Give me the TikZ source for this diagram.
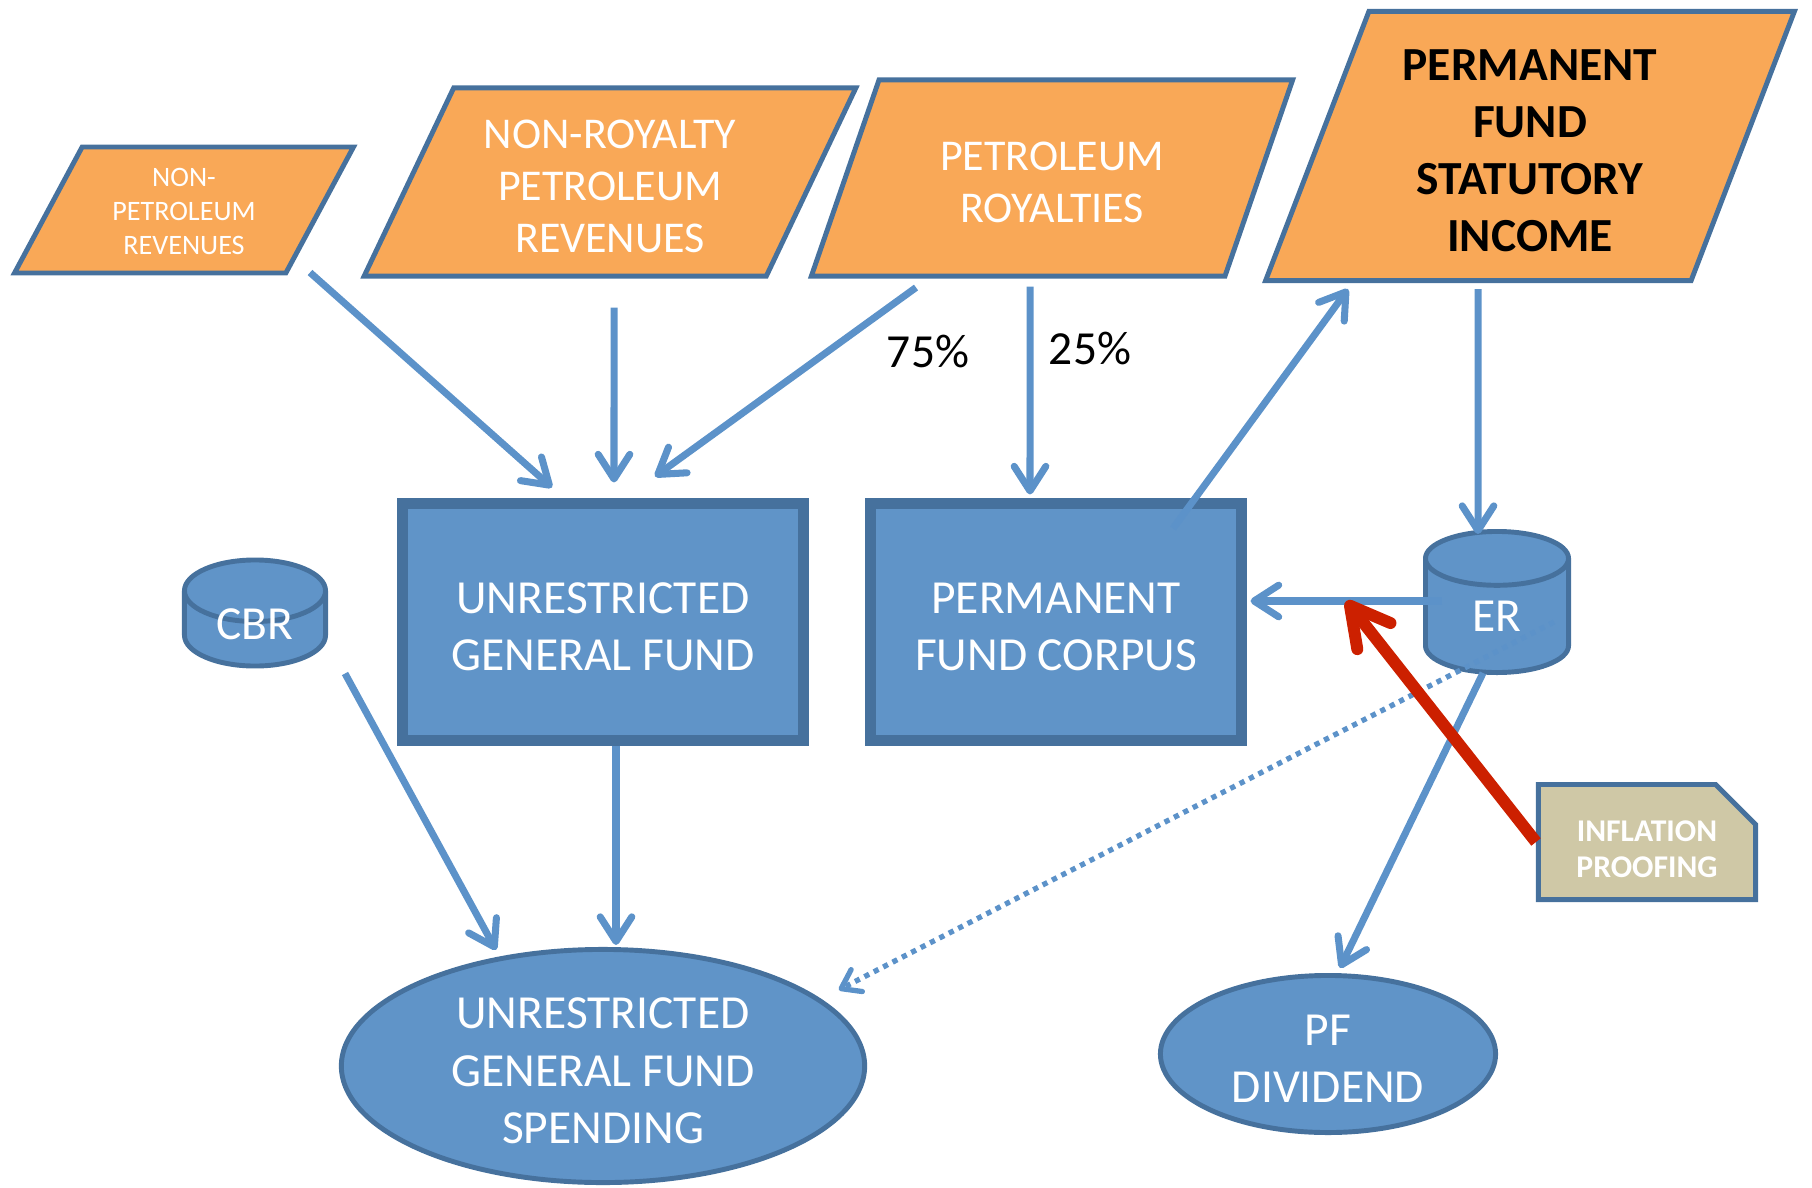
\documentclass[tikz,border=0pt]{standalone}
\usepackage{fontspec}
\setmainfont{Carlito}
\usetikzlibrary{positioning}
\usetikzlibrary{shapes.geometric, shapes.misc, arrows.meta, calc}

\definecolor{fillblue}{RGB}{96,148,200}
\definecolor{edgeblue}{RGB}{70,113,157}
\definecolor{linkblue}{RGB}{92,146,201}
\definecolor{revorange}{RGB}{249,168,87}
\definecolor{proofred}{RGB}{204,32,0}
\definecolor{prooftan}{RGB}{207,200,166}

\newcommand{\fundfont}{\fontsize{13.5}{16.3}\selectfont}
\newcommand{\revfont}{\fontsize{12.5}{14.8}\selectfont}
\newcommand{\tinyrevfont}{\fontsize{8}{9.7}\selectfont}
\newcommand{\prooffont}{\bfseries\fontsize{9}{10.2}\selectfont}
% taller first line, so the block of capitals sits a bit low
\newcommand{\topstrut}[1][0.85em]{\rule{0pt}{#1}}
% label with no height, so the cylinder keeps its minimum height
\newcommand{\flattext}[2]{\raisebox{#1}[0pt][0pt]{#2}}

\tikzstyle{revenue} = [trapezium, trapezium stretches=true, trapezium left angle=63, trapezium right angle=117, draw=edgeblue, line width=1.4pt, fill=revorange, text=white, align=center, inner sep=0pt, font=\revfont]
\tikzstyle{fund} = [rectangle, draw=edgeblue, line width=3.1pt, fill=fillblue, text=white, align=center, font=\fundfont]
\tikzstyle{reserve} = [cylinder, shape border rotate=90, anchor=shape center, draw=edgeblue, line width=1.4pt, fill=fillblue, text=white, inner sep=0pt, font=\fundfont]
\tikzstyle{outlay} = [ellipse, draw=edgeblue, line width=1.4pt, fill=fillblue, text=white, align=center, inner sep=0pt, font=\fundfont]
\tikzstyle{proof} = [chamfered rectangle, chamfered rectangle corners=north east, chamfered rectangle xsep=0.2cm, chamfered rectangle ysep=0.2cm, draw=edgeblue, line width=1.4pt, fill=prooftan, text=white, align=center, inner sep=0pt, font=\prooffont]
\tikzstyle{arrow} = [line width=2pt, draw=linkblue, -{Straight Barb[length=7pt,width=9pt,line cap=round,line join=round]}]

\begin{document}
\begin{tikzpicture}[x=0.01cm, y=-0.01cm]
    \useasboundingbox (0,0) rectangle (1812,1188);
    % revenue sources
    \node[revenue, trapezium left angle=62, trapezium right angle=118, minimum width=3.40cm, minimum height=1.26cm, font=\tinyrevfont] (nonpet) at (184,210) {\topstrut[0.75em]NON-\\PETROLEUM\\REVENUES};
    \node[revenue, minimum width=4.92cm, minimum height=1.88cm] (nonroy) at (610,182) {\topstrut NON-ROYALTY\\PETROLEUM\\REVENUES};
    \node[revenue, trapezium left angle=64, trapezium right angle=116, minimum width=4.85cm, minimum height=1.96cm] (petroy) at (1052,178) {\topstrut PETROLEUM\\ROYALTIES};
    \node[revenue, trapezium left angle=69, trapezium right angle=111, minimum width=5.29cm, minimum height=2.69cm, text=black, font=\fundfont\bfseries] (pfsi) at (1530,146) {\topstrut PERMANENT\\FUND\\STATUTORY\\INCOME};
    % funds and reserves
    \node[fund, minimum width=4.01cm, minimum height=2.36cm] (ugf) at (603,622) {\topstrut UNRESTRICTED\\GENERAL FUND};
    \node[fund, minimum width=3.70cm, minimum height=2.36cm] (corpus) at (1056,622) {\topstrut PERMANENT\\FUND CORPUS};
    \node[reserve, minimum width=1.41cm, minimum height=1.06cm, aspect=0.8] (cbr) at (255,613) {\flattext{-2.8pt}{CBR}};
    \node[reserve, minimum width=1.43cm, minimum height=1.41cm, aspect=1.1] (er) at (1497,602) {ER};
    % spending
    \node[outlay, minimum width=5.23cm, minimum height=2.33cm] (spend) at (603,1066) {\topstrut UNRESTRICTED\\GENERAL FUND\\SPENDING};
    \node[outlay, minimum width=3.35cm, minimum height=1.57cm] (dividend) at (1328,1054) {\topstrut PF\\DIVIDEND};
    \node[proof, minimum width=2.17cm, minimum height=1.15cm] (infl) at (1647,842) {\topstrut[1.09em]INFLATION\\PROOFING};
    \node[font=\fundfont] (pctgf) at (928,352) {75\%};
    \node[font=\fundfont] (pctpf) at (1090,349) {25\%};
    % flows
    \draw[arrow] ([shift={(126,-3)}]nonpet.south) -- ([shift={(-51,-11)}]ugf.north);
    \draw[arrow] ([shift={(4,29)}]nonroy.south) -- ([shift={(11,-16)}]ugf.north);
    \draw[arrow] ([shift={(-136,9)}]petroy.south) -- ([shift={(52,-22)}]ugf.north);
    \draw[arrow] ([shift={(-22,8)}]petroy.south) -- ([shift={(-26,-4)}]corpus.north);
    \draw[arrow] ([shift={(117,30)}]corpus.north) -- ([shift={(-182,6)}]pfsi.south);
    \draw[arrow] ([shift={(-52,6)}]pfsi.south) -- ([shift={(-19,5)}]er.north);
    \draw[arrow] ($(er.west |- corpus.east)+(19,-21)$) -- coordinate[pos=0.5] (topup) ($(corpus.east)+(4,-21)$);
    \draw[arrow] ([shift={(-14,-2)}]er.south) -- ([shift={(12,-5)}]dividend.north);
    \draw[linkblue, line width=1.5pt, dash pattern=on 1.5pt off 1.5pt, -{Straight Barb[length=5pt,width=7pt,line cap=round,line join=round,sep=0pt]}] ([shift={(57,20)}]er.shape center) -- ([shift={(49,8)}]spend.north east);
    \draw[arrow] ([shift={(90,5)}]cbr.south) -- ([shift={(-107,3)}]spend.north);
    \draw[arrow] ([shift={(13,0)}]ugf.south) -- ([shift={(13,-2)}]spend.north);
    \draw[proofred, line width=3.4pt, -{Straight Barb[length=11pt,width=12pt,line cap=round,line join=round]}] (infl.west) -- (topup);
\end{tikzpicture}
\end{document}
